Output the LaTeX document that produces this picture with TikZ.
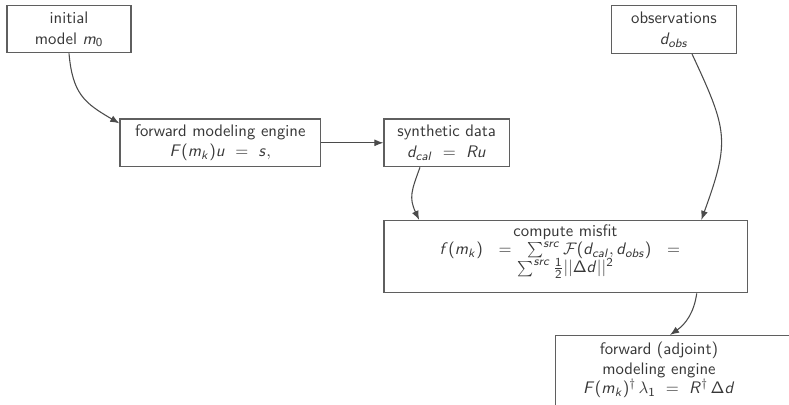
\documentclass[tikz,border=0pt]{standalone}
\usetikzlibrary{arrows.meta}
\DeclareSymbolFont{sfit}{OT1}{cmss}{m}{sl}
\SetSymbolFont{operators}{normal}{OT1}{cmss}{m}{n}
\DeclareMathSymbol{a}{\mathalpha}{sfit}{`a}
\DeclareMathSymbol{b}{\mathalpha}{sfit}{`b}
\DeclareMathSymbol{c}{\mathalpha}{sfit}{`c}
\DeclareMathSymbol{d}{\mathalpha}{sfit}{`d}
\DeclareMathSymbol{f}{\mathalpha}{sfit}{`f}
\DeclareMathSymbol{k}{\mathalpha}{sfit}{`k}
\DeclareMathSymbol{l}{\mathalpha}{sfit}{`l}
\DeclareMathSymbol{m}{\mathalpha}{sfit}{`m}
\DeclareMathSymbol{o}{\mathalpha}{sfit}{`o}
\DeclareMathSymbol{r}{\mathalpha}{sfit}{`r}
\DeclareMathSymbol{s}{\mathalpha}{sfit}{`s}
\DeclareMathSymbol{u}{\mathalpha}{sfit}{`u}
\DeclareMathSymbol{F}{\mathalpha}{sfit}{`F}
\DeclareMathSymbol{R}{\mathalpha}{sfit}{`R}
\newcommand\normalboxfont{\sffamily\fontsize{10.95}{13.6}\selectfont}
\newcommand\misfitfont{\sffamily\fontsize{10.95}{12}\selectfont\lineskiplimit -100pt\relax}
\newcommand\adjfont{\sffamily\fontsize{10.95}{12.8}\selectfont\lineskiplimit -100pt\relax}
\newcommand\deepstrut{\rule[-10.4pt]{0pt}{0pt}}
\newcommand\weq{\mskip12mu=\mskip12mu}
\definecolor{txtgray}{RGB}{55,55,55}
\definecolor{boxgray}{RGB}{95,95,95}
\definecolor{arrgray}{RGB}{75,75,75}
\tikzset{
  box/.style={draw=boxgray, line width=0.9pt, text=txtgray,
    font=\normalboxfont, align=center, inner sep=0pt},
  plaintext/.style={text=txtgray, align=center, inner sep=0pt},
  arr/.style={draw=arrgray, line width=0.7pt, -{Latex[length=6pt,width=4.6pt]}}
}
\begin{document}
\begin{tikzpicture}[x=0.655pt,y=0.655pt]
\clip (0,0) rectangle (789,-404);
\node[box, minimum width=81.2pt, minimum height=30.8pt] (init) at (69,-29.2)
  {initial\\model $m_0$};
\node[box, minimum width=131.3pt, minimum height=31.2pt] (fwd) at (220.3,-142.8)
  {forward modeling engine\\$F(m_k)u~=~s,$};
\node[box, minimum width=82pt, minimum height=31.2pt] (synth) at (446.7,-142.8)
  {synthetic data\\$d_{cal}~=~Ru$};
\node[box, minimum width=81.6pt, minimum height=31.2pt] (obs) at (674,-29.5)
  {observations\\$d_{obs}$};
\node[box, font=\misfitfont, minimum width=238pt, minimum height=47.2pt] (misfit) at (565.5,-256.7)
  {compute misfit\\$f(m_k)\weq\sum^{src}\mathcal{F}(d_{cal},d_{obs})\weq$\\$\sum^{src}\frac{1}{2}||\Delta d||^2$\deepstrut};
\node[box, anchor=north west, minimum width=175pt, minimum height=60pt] (adj) at (555,-335) {};
\node[plaintext, font=\adjfont] (adjtxt) at (659,-370)
  {forward (adjoint)\\modeling engine\\$F(m_k)^\dagger\,\lambda_1~=~R^\dagger\,\Delta d$};
\draw[arr] (init.south) to[out=-85, in=150, looseness=1.2] ([yshift=-3.3pt]fwd.north west);
\draw[arr] (fwd.east) -- (synth.west);
\draw[arr] ([xshift=-17.5pt]synth.south) to[out=-110, in=115, looseness=1.2] ([xshift=23.6pt]misfit.north west);
\draw[arr] ([xshift=11.8pt]obs.south) to[out=-65, in=70, looseness=1.3] ([xshift=-30.5pt]misfit.north east);
\draw[arr] ([xshift=-33.5pt]misfit.south east) to[out=-98, in=35] ([xshift=75.3pt]adj.north west);
\end{tikzpicture}
\end{document}
